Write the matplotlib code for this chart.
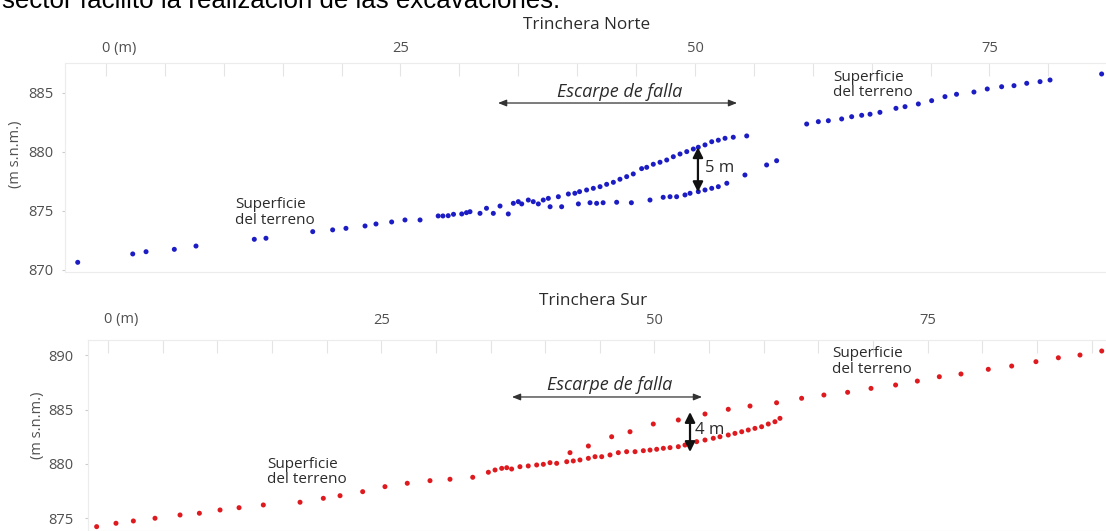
import matplotlib
matplotlib.use("Agg")
import matplotlib.pyplot as plt
from matplotlib.ticker import MultipleLocator, FixedLocator
from matplotlib.transforms import offset_copy

# Trinchera Norte: distance along the profile (m) and elevation (m s.n.m.)
norte_x = [-2.40, 2.27, 3.40, 5.80, 7.64, 12.59, 13.58, 17.55, 19.24, 20.37,
           21.99, 22.92, 24.25, 25.38, 26.66, 28.20, 28.60, 29.05, 29.50, 30.20,
           30.60, 30.90, 31.75, 32.30, 32.88, 33.45, 34.15, 34.58, 35.00, 35.29,
           35.85, 36.27, 36.70, 37.12, 37.55, 37.70,
           # upper block of the scarp
           38.40, 39.25, 39.80, 40.20, 40.80, 41.37, 41.94, 42.50, 43.07, 43.63,
           44.20, 44.76, 45.47, 45.90, 46.46, 47.03, 47.60, 48.16, 48.73, 49.30,
           49.86, 50.28, 50.85, 51.42, 51.98, 52.55, 53.25, 54.39,
           # lower block of the scarp
           38.68, 40.10, 41.09, 41.65, 42.20, 43.35, 44.60, 46.18, 47.30, 47.88,
           48.44, 49.15, 49.58, 50.28, 50.85, 51.42, 51.98, 52.70,
           54.24, 56.08, 56.93,
           # eastern ground surface
           59.48, 60.47, 61.32, 62.45, 63.30, 64.15, 64.86, 65.70, 67.06, 67.83,
           68.96, 70.09, 71.22, 72.20, 73.68, 74.81, 76.03, 77.08, 78.16, 79.29,
           80.14, 84.52]
norte_y = [870.65, 871.36, 871.55, 871.75, 872.03, 872.60, 872.69, 873.25, 873.40, 873.53,
           873.73, 873.90, 874.07, 874.24, 874.24, 874.58, 874.58, 874.60, 874.72, 874.75,
           874.86, 874.94, 874.80, 875.23, 874.80, 875.42, 874.75, 875.65, 875.79, 875.60,
           875.93, 875.79, 875.60, 875.93, 876.07, 875.36,
           876.21, 876.44, 876.50, 876.64, 876.78, 876.92, 877.06, 877.26, 877.43, 877.69,
           877.91, 878.14, 878.59, 878.70, 878.96, 879.13, 879.32, 879.60, 879.83, 880.03,
           880.25, 880.40, 880.60, 880.87, 881.00, 881.16, 881.25, 881.36,
           875.36, 875.60, 875.70, 875.65, 875.70, 875.74, 875.70, 875.93, 876.16, 876.21,
           876.21, 876.36, 876.50, 876.64, 876.78, 876.92, 877.06, 877.35,
           878.05, 878.90, 879.26,
           882.37, 882.57, 882.65, 882.80, 882.99, 883.11, 883.20, 883.36, 883.70, 883.84,
           884.07, 884.35, 884.69, 884.89, 885.08, 885.34, 885.53, 885.62, 885.82, 885.96,
           886.10, 886.61]

# Trinchera Sur
sur_x = [-1.04, 0.73, 2.32, 4.30, 6.59, 8.36, 10.25, 11.99, 14.21, 17.57,
         19.70, 21.23, 23.30, 25.34, 27.38, 29.46, 31.29, 33.37, 34.80, 35.41,
         36.02, 36.48, 36.93, 37.69, 38.45, 39.22, 39.83,
         # lower block of the scarp
         40.44, 41.05, 41.97, 42.57, 43.18, 43.95, 44.56, 45.17, 45.93, 46.69,
         47.45, 48.22, 48.98, 49.59, 50.20, 50.81, 51.42, 52.18, 52.79, 53.86,
         54.62, 55.38, 55.99, 56.75, 57.36, 57.98, 58.58, 59.19, 59.80, 60.41,
         61.02, 61.48,
         # upper block of the scarp
         42.27, 43.95, 46.08, 47.76, 49.89, 52.18, 54.62, 56.75, 58.74, 61.17,
         # eastern ground surface
         63.46, 65.50, 67.67, 69.81, 72.06, 74.05, 76.06, 78.04, 80.54, 82.68,
         84.90, 86.95, 88.93, 90.92]
sur_y = [874.25, 874.56, 874.77, 875.02, 875.32, 875.48, 875.78, 875.99, 876.24, 876.49,
         876.85, 877.09, 877.46, 877.92, 878.23, 878.47, 878.60, 878.78, 879.24, 879.45,
         879.60, 879.66, 879.54, 879.75, 879.82, 879.91, 879.97,
         880.12, 880.06, 880.21, 880.28, 880.37, 880.52, 880.67, 880.67, 880.83, 881.04,
         881.13, 881.13, 881.22, 881.28, 881.35, 881.44, 881.50, 881.59, 881.74, 882.05,
         882.20, 882.36, 882.50, 882.66, 882.81, 882.96, 883.12, 883.27, 883.42, 883.67,
         883.88, 884.19,
         881.04, 881.65, 882.50, 882.96, 883.67, 884.04, 884.59, 885.02, 885.32, 885.62,
         886.03, 886.33, 886.58, 886.94, 887.25, 887.61, 888.01, 888.26, 888.69, 888.99,
         889.39, 889.75, 890.00, 890.37]

x_ticks = [0, 25, 50, 75]
x_ticklabels = ["0 (m)", "25", "50", "75"]
norte_yticks = [870, 875, 880, 885]
sur_yticks = [875, 880, 885, 890]
y_label = "(m s.n.m.)"

FONT = ["Open Sans", "DejaVu Sans"]
TXT = "#2b2b2b"
TICK_TXT = "#505050"
TICK_FS = 10.5
W, H = 1106, 531

fig = plt.figure(figsize=(W / 100, H / 100), dpi=100)
fig.patch.set_facecolor("white")


def add_px_axes(left, top, right, bottom):
    return fig.add_axes([left / W, 1 - bottom / H, (right - left) / W, (bottom - top) / H])


def style_axes(ax, yticks, xpad, ypad):
    for side in ("top", "left", "bottom"):
        ax.spines[side].set_color("#ececec")
        ax.spines[side].set_linewidth(0.8)
    ax.spines["right"].set_visible(False)
    ax.xaxis.set_ticks_position("top")
    ax.xaxis.set_major_locator(FixedLocator(x_ticks))
    ax.xaxis.set_minor_locator(MultipleLocator(5))
    ax.set_xticklabels([""] + x_ticklabels[1:])
    ax.tick_params(axis="x", which="both", direction="in", length=9, width=0.8,
                   color="#e4e4e4", pad=xpad, labelsize=TICK_FS, labelcolor=TICK_TXT)
    ax.set_yticks(yticks)
    ax.tick_params(axis="y", direction="out", length=2.5, width=0.8, color="#cccccc",
                   pad=ypad, labelsize=TICK_FS, labelcolor=TICK_TXT)
    for lab in ax.get_xticklabels() + ax.get_yticklabels():
        lab.set_family(FONT)
    # first distance label sits to the right of its tick
    trans = offset_copy(ax.get_xaxis_transform(), fig=fig, x=-3.0, y=xpad, units="points")
    ax.text(0, 1.0, x_ticklabels[0], transform=trans, ha="left", va="bottom",
            fontsize=TICK_FS, color=TICK_TXT, family=FONT)


def note(ax, x, y, s, **kw):
    ax.text(x, y, s, family=FONT, color=TXT, **kw)


def dbl_arrow(ax, x0, y0, x1, y1, lw, color, head):
    ax.annotate("", xy=(x1, y1), xytext=(x0, y0),
                arrowprops=dict(arrowstyle=f"<|-|>,head_length={head[0]},head_width={head[1]}",
                                lw=lw, color=color, shrinkA=0, shrinkB=0))


# ---- Trinchera Norte ----
ax1 = add_px_axes(65, 63, 1106, 272)
ax1.set_xlim(-3.48, 84.89)
ax1.set_ylim(869.83, 887.54)
ax1.scatter(norte_x, norte_y, s=13, color="#1c1cc4", edgecolors="none", zorder=3)
style_axes(ax1, norte_yticks, xpad=5, ypad=6)
ax1.set_ylabel(y_label, family=FONT, fontsize=10.5, color=TICK_TXT)
ax1.yaxis.set_label_coords(-0.040, 0.565)
fig.text(587 / W, 1 - 25 / H, "Trinchera Norte", ha="center", va="center",
         family=FONT, fontsize=12.3, color=TXT)

note(ax1, 10.95, 874.87, "Superficie\ndel terreno", fontsize=11, va="center", ha="left",
     linespacing=1.05)
note(ax1, 61.7, 885.68, "Superficie\ndel terreno", fontsize=11, va="center", ha="left",
     linespacing=1.05)
note(ax1, 43.6, 885.1, "Escarpe de falla", fontsize=13, style="italic",
     ha="center", va="center")
dbl_arrow(ax1, 33.28, 884.15, 53.57, 884.15, 0.9, "#333333", (0.5, 0.2))
dbl_arrow(ax1, 50.25, 876.6, 50.25, 880.4, 1.6, "#111111", (0.6, 0.3))
note(ax1, 50.85, 878.64, "5 m", fontsize=12, ha="left", va="center")

# ---- Trinchera Sur ----
ax2 = add_px_axes(88, 340, 1106, 531)
ax2.set_xlim(-1.83, 91.31)
ax2.set_ylim(873.85, 891.38)
ax2.scatter(sur_x, sur_y, s=13, color="#de1a1f", edgecolors="none", zorder=3)
style_axes(ax2, sur_yticks, xpad=9, ypad=8)
ax2.set_ylabel(y_label, family=FONT, fontsize=10.5, color=TICK_TXT)
ax2.yaxis.set_label_coords(-0.042, 0.555)
fig.text(593 / W, 1 - 301 / H, "Trinchera Sur", ha="center", va="center",
         family=FONT, fontsize=12.3, color=TXT)

note(ax2, 14.55, 879.27, "Superficie\ndel terreno", fontsize=11, va="center", ha="left",
     linespacing=1.05)
note(ax2, 66.24, 889.4, "Superficie\ndel terreno", fontsize=11, va="center", ha="left",
     linespacing=1.05)
note(ax2, 45.88, 887.25, "Escarpe de falla", fontsize=13, style="italic",
     ha="center", va="center")
dbl_arrow(ax2, 36.96, 886.15, 54.35, 886.15, 0.9, "#333333", (0.5, 0.2))
dbl_arrow(ax2, 53.25, 881.1, 53.25, 884.77, 1.6, "#111111", (0.6, 0.3))
note(ax2, 53.7, 883.12, "4 m", fontsize=12, ha="left", va="center")

# running text of the page above the figure
fig.text(2 / W, 1 - 8 / H, "sector facilitó la realización de las excavaciones.",
         ha="left", va="baseline", family=["Liberation Sans", "DejaVu Sans"],
         fontsize=18.6, color="black")

fig.savefig("out.png", dpi=100, facecolor="white")
